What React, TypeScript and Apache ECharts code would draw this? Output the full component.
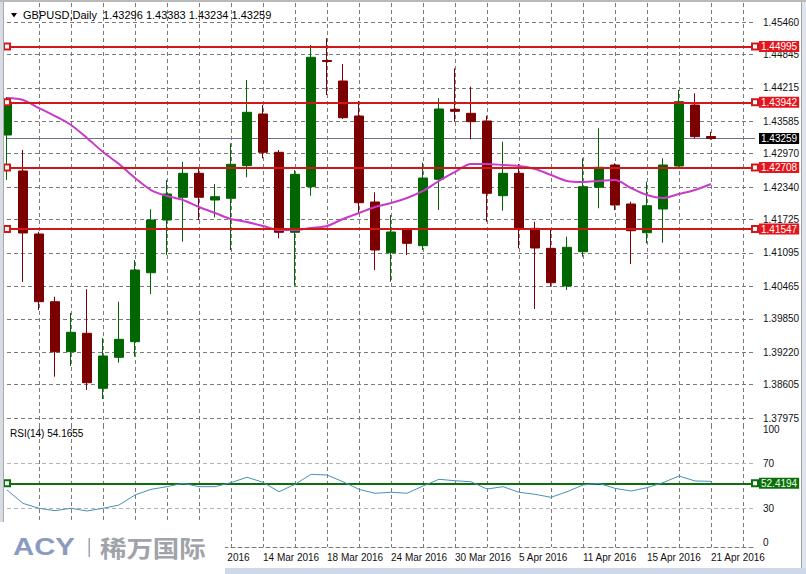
import React, { useEffect, useRef } from 'react';
import * as echarts from 'echarts';

// ---- data ----
const dates = [
  '19 Feb 2016', '22 Feb 2016', '23 Feb 2016', '24 Feb 2016', '25 Feb 2016', '26 Feb 2016', '29 Feb 2016',
  '1 Mar 2016', '2 Mar 2016', '3 Mar 2016', '4 Mar 2016', '7 Mar 2016', '8 Mar 2016', '9 Mar 2016',
  '10 Mar 2016', '11 Mar 2016', '14 Mar 2016', '15 Mar 2016', '16 Mar 2016', '17 Mar 2016', '18 Mar 2016',
  '21 Mar 2016', '22 Mar 2016', '23 Mar 2016', '24 Mar 2016', '25 Mar 2016', '28 Mar 2016', '29 Mar 2016',
  '30 Mar 2016', '31 Mar 2016', '1 Apr 2016', '4 Apr 2016', '5 Apr 2016', '6 Apr 2016', '7 Apr 2016',
  '8 Apr 2016', '11 Apr 2016', '12 Apr 2016', '13 Apr 2016', '14 Apr 2016', '15 Apr 2016', '18 Apr 2016',
  '19 Apr 2016', '20 Apr 2016', '21 Apr 2016',
];

const opens = [
  1.43324, 1.42644, 1.41453, 1.40173, 1.39228, 1.39576, 1.38536, 1.39122, 1.39417, 1.40721,
  1.41717, 1.42147, 1.42600, 1.42095, 1.42128, 1.42744, 1.43721, 1.42997, 1.41485, 1.42347,
  1.44732, 1.44345, 1.43683, 1.42058, 1.41099, 1.41542, 1.41232, 1.42487, 1.43810, 1.43734,
  1.43589, 1.42177, 1.42600, 1.41560, 1.41182, 1.40470, 1.41118, 1.42336, 1.42757, 1.42020,
  1.41477, 1.41925, 1.42738, 1.43891, 1.43296,
];
const closes = [
  1.43948, 1.41472, 1.40173, 1.39228, 1.39595, 1.38642, 1.39147, 1.39462, 1.40772, 1.41717,
  1.42209, 1.42600, 1.42147, 1.42158, 1.42770, 1.43753, 1.42997, 1.41485, 1.42581, 1.44793,
  1.44713, 1.43651, 1.42044, 1.41150, 1.41491, 1.41277, 1.42511, 1.43816, 1.43772, 1.43576,
  1.42222, 1.42600, 1.41560, 1.41188, 1.40532, 1.41201, 1.42347, 1.42714, 1.42001, 1.41515,
  1.41988, 1.42757, 1.43954, 1.43292, 1.43259,
];
const lows = [
  1.42474, 1.40546, 1.40016, 1.38755, 1.38958, 1.38504, 1.38334, 1.39020, 1.39134, 1.40319,
  1.41056, 1.41307, 1.41717, 1.41768, 1.41150, 1.42525, 1.42884, 1.41372, 1.40476, 1.42177,
  1.44080, 1.43627, 1.41855, 1.40772, 1.40551, 1.41056, 1.41150, 1.41906, 1.43576, 1.43243,
  1.41685, 1.41893, 1.41182, 1.40035, 1.40457, 1.40394, 1.41024, 1.41939, 1.41906, 1.40886,
  1.41277, 1.41288, 1.42725, 1.43262, 1.43234,
];
const highs = [
  1.44042, 1.43041, 1.41496, 1.40268, 1.39960, 1.40408, 1.39481, 1.40173, 1.40961, 1.41920,
  1.42474, 1.42819, 1.42714, 1.42398, 1.43167, 1.44364, 1.43891, 1.43041, 1.42662, 1.45025,
  1.45152, 1.44666, 1.43967, 1.42241, 1.41812, 1.41548, 1.42801, 1.44018, 1.44585, 1.44237,
  1.43689, 1.43197, 1.42776, 1.41685, 1.41528, 1.41402, 1.42884, 1.43451, 1.42789, 1.42063,
  1.42441, 1.42884, 1.44175, 1.44112, 1.43383,
];

const movingAverage = [
  1.44023, 1.43986, 1.43834, 1.43683, 1.43513, 1.43267, 1.43003, 1.42776, 1.42511, 1.42284,
  1.42171, 1.42095, 1.41963, 1.41850, 1.41736, 1.41680, 1.41604, 1.41528, 1.41528, 1.41566,
  1.41604, 1.41736, 1.41850, 1.41963, 1.42039, 1.42133, 1.42266, 1.42455, 1.42625, 1.42776,
  1.42776, 1.42757, 1.42738, 1.42681, 1.42568, 1.42455, 1.42436, 1.42455, 1.42474, 1.42322,
  1.42190, 1.42133, 1.42209, 1.42284, 1.42398,
];

const rsi = [
  46.4, 34.5, 30.1, 28.0, 30.1, 27.7, 30.1, 33.0, 42.0, 47.0,
  49.4, 52.4, 49.4, 49.4, 53.0, 57.8, 53.3, 44.9, 51.5, 60.4,
  59.8, 53.8, 47.0, 43.5, 44.4, 43.5, 50.0, 56.0, 54.7, 53.8,
  47.3, 49.4, 44.4, 42.6, 39.9, 44.9, 50.9, 52.4, 47.9, 45.5,
  48.5, 53.0, 58.9, 54.5, 54.17,
];

const priceTicks = [
  1.45460, 1.44845, 1.44215, 1.43585, 1.42970, 1.42340, 1.41725,
  1.41095, 1.40465, 1.39850, 1.39220, 1.38605, 1.37975,
];
const levelLines = [1.44995, 1.43942, 1.42708, 1.41547];
const currentPrice = 1.43259;
const rsiLevel = 52.4194;
const rsiDashedLevels = [70, 30];
const rsiLabelOnly = [100, 0];

const headerText = 'GBPUSD,Daily  1.43296 1.43383 1.43234 1.43259';
const rsiText = 'RSI(14) 54.1655';

// ---- styling / layout constants ----
const FONT = "'Liberation Sans', Arial, sans-serif";
const BULL = '#006600';
const BEAR = '#7d0000';
const GRID = '#7a7a7a';
const X_MAX = 46.75;
const P_MAX = 1.4581913;
const P_MIN = 1.3784269;
const R_MAX = 104.464;
const R_MIN = -4.464;

export default function App() {
  const ref = useRef<HTMLDivElement>(null);

  useEffect(() => {
    document.body.style.margin = '0';
    const chart = echarts.init(ref.current as HTMLDivElement, null, { renderer: 'svg' });

    const candleData = opens.map((o, i) => [i, o, closes[i], lows[i], highs[i]]);
    const dashed = [4, 3];

    const option: any = {
      animation: false,
      backgroundColor: '#ffffff',
      grid: [
        { left: 7, top: 3, width: 748, height: 422 },
        { left: 7, top: 425, width: 748, height: 122 },
      ],
      xAxis: [
        {
          type: 'value', gridIndex: 0, min: 0, max: X_MAX, interval: 2,
          axisLine: { show: false }, axisTick: { show: false }, axisLabel: { show: false },
          splitLine: { show: true, showMinLine: false, showMaxLine: false, lineStyle: { color: GRID, type: dashed, width: 1 } },
        },
        {
          type: 'value', gridIndex: 1, min: 0, max: X_MAX, interval: 2,
          axisLine: { show: true, onZero: false, lineStyle: { color: GRID, type: dashed, width: 1 } },
          axisTick: { show: false },
          axisLabel: {
            show: true, align: 'left', margin: 5, fontSize: 10, color: '#111', fontFamily: FONT,
            showMinLabel: true, showMaxLabel: true,
            formatter: (v: number) => {
              const i = Math.round(v);
              if (Math.abs(v - i) > 1e-6) return '';
              if (i % 4 !== 0 || i < 12 || i >= dates.length) return '';
              return dates[i];
            },
          },
          splitLine: { show: true, showMinLine: false, showMaxLine: false, lineStyle: { color: GRID, type: dashed, width: 1 } },
        },
      ],
      yAxis: [
        { type: 'value', gridIndex: 0, min: P_MIN, max: P_MAX, show: false, splitLine: { show: false } },
        { type: 'value', gridIndex: 1, min: R_MIN, max: R_MAX, show: false, splitLine: { show: false } },
      ],
      series: [
        {
          type: 'candlestick', xAxisIndex: 0, yAxisIndex: 0, z: 2,
          data: candleData,
          barWidth: 10,
          itemStyle: { color: BULL, color0: BEAR, borderColor: BULL, borderColor0: BEAR, borderWidth: 1 },
          markLine: {
            silent: true, symbol: 'none', z: 1, animation: false, precision: 6,
            lineStyle: { color: GRID, type: dashed, width: 1 },
            label: { show: true, position: 'end', distance: 8, formatter: '{b}', color: '#111', fontSize: 10, fontFamily: FONT },
            data: [
              ...priceTicks.map((v) => ({ yAxis: v, name: v.toFixed(5) })),
              {
                yAxis: currentPrice, name: currentPrice.toFixed(5),
                lineStyle: { color: '#707090', type: 'solid', width: 1 },
                label: { backgroundColor: '#000', color: '#fff', padding: [1, 2, 0, 2], distance: 4 },
              },
            ],
          },
        },
        {
          type: 'line', xAxisIndex: 0, yAxisIndex: 0, z: 3,
          data: movingAverage.map((v, i) => [i, v]),
          smooth: 0.3, showSymbol: false, symbol: 'none',
          lineStyle: { color: '#c83ac8', width: 2 },
          markLine: {
            silent: true, symbol: 'none', z: 6, animation: false, precision: 6,
            lineStyle: { color: '#d01818', type: 'solid', width: 2 },
            label: {
              show: true, position: 'end', distance: 4, formatter: '{b}', color: '#fff',
              backgroundColor: '#e2161c', padding: [1, 2, 0, 2], fontSize: 10, fontFamily: FONT,
            },
            data: levelLines.map((v) => [
              { coord: [0, v], name: v.toFixed(5), symbol: 'emptyRect', symbolSize: 6 },
              { coord: [X_MAX, v], symbol: 'emptyRect', symbolSize: 6 },
            ]),
          },
        },
        {
          type: 'line', xAxisIndex: 1, yAxisIndex: 1, z: 3,
          data: rsi.map((v, i) => [i, v]),
          showSymbol: false, symbol: 'none',
          lineStyle: { color: '#4a90b8', width: 1 },
          markLine: {
            silent: true, symbol: 'none', z: 1, animation: false, precision: 6,
            lineStyle: { color: '#b4b4b4', type: dashed, width: 1 },
            label: { show: true, position: 'end', distance: 8, formatter: '{b}', color: '#111', fontSize: 10, fontFamily: FONT },
            data: [
              ...rsiDashedLevels.map((v) => ({ yAxis: v, name: String(v) })),
              ...rsiLabelOnly.map((v) => ({ yAxis: v, name: String(v), lineStyle: { color: 'rgba(0,0,0,0)' } })),
              [
                {
                  coord: [0, rsiLevel], name: rsiLevel.toFixed(4), symbol: 'emptyRect', symbolSize: 6,
                  lineStyle: { color: '#0e6e0e', type: 'solid', width: 2 },
                  label: { backgroundColor: '#0e6e0e', color: '#e4ffe4', padding: [1, 2, 0, 2], distance: 4 },
                },
                { coord: [X_MAX, rsiLevel], symbol: 'emptyRect', symbolSize: 6 },
              ],
            ],
          },
        },
      ],
      graphic: [
        // window frame
        { type: 'rect', z: 50, silent: true, shape: { x: 0, y: 0, width: 3, height: 574 }, style: { fill: '#d7dbe2' } },
        { type: 'rect', z: 50, silent: true, shape: { x: 3, y: 0, width: 1, height: 574 }, style: { fill: '#a9a9a9' } },
        { type: 'rect', z: 50, silent: true, shape: { x: 801, y: 0, width: 5, height: 574 }, style: { fill: '#dfe5ee' } },
        { type: 'rect', z: 50, silent: true, shape: { x: 801, y: 0, width: 1, height: 574 }, style: { fill: '#a4a4a4' } },
        { type: 'rect', z: 50, silent: true, shape: { x: 0, y: 0, width: 806, height: 2 }, style: { fill: '#b9b9b9' } },
        { type: 'rect', z: 50, silent: true, shape: { x: 0, y: 568, width: 806, height: 6 }, style: { fill: '#cdd9e8' } },
        // header
        { type: 'polygon', z: 60, silent: true, shape: { points: [[11, 13], [17, 13], [14, 17.5]] }, style: { fill: '#000' } },
        {
          type: 'text', z: 60, silent: true, x: 23, y: 15,
          style: { text: headerText, fontSize: 11, fontFamily: FONT, fill: '#000', verticalAlign: 'middle' },
        },
        {
          type: 'text', z: 60, silent: true, x: 10, y: 433,
          style: { text: rsiText, fontSize: 10, fontFamily: FONT, fill: '#000', verticalAlign: 'middle' },
        },
        // logo
        { type: 'rect', z: 100, silent: true, shape: { x: 0, y: 522, width: 225, height: 52 }, style: { fill: '#ffffff' } },
        {
          type: 'text', z: 101, silent: true, x: 13, y: 547, scaleX: 1.22,
          style: { text: 'ACY', fontSize: 24, fontWeight: 'bold', fontFamily: "'Liberation Sans', Arial, sans-serif", fill: '#8a9bbf', verticalAlign: 'middle' },
        },
        { type: 'rect', z: 101, silent: true, shape: { x: 88.5, y: 538, width: 1.5, height: 19 }, style: { fill: '#9ea6b6' } },
        {
          type: 'text', z: 101, silent: true, x: 100, y: 547, scaleX: 1.15,
          style: { text: '稀万国际', fontSize: 23, fontWeight: 'bold', fontFamily: "'Noto Sans CJK SC', sans-serif", fill: '#a0a3aa', verticalAlign: 'middle' },
        },
      ],
    };

    chart.setOption(option);
    return () => chart.dispose();
  }, []);

  return <div ref={ref} style={{ width: 806, height: 574 }} />;
}
